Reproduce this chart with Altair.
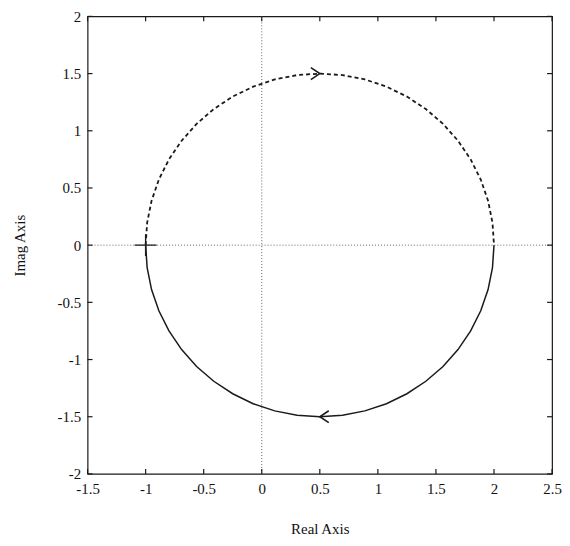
import altair as alt
import pandas as pd

# Axis ticks
x_ticks = [-1.5, -1, -0.5, 0, 0.5, 1, 1.5, 2, 2.5]
y_ticks = [-2, -1.5, -1, -0.5, 0, 0.5, 1, 1.5, 2]

# Upper half of the Nyquist contour (dashed), from -1 to 2
upper_x = [-1.000, -0.987, -0.949, -0.886, -0.799, -0.690, -0.561, -0.413, -0.250,
           -0.074, 0.112, 0.304, 0.500, 0.696, 0.888, 1.074, 1.250, 1.413, 1.561,
           1.690, 1.799, 1.886, 1.949, 1.987, 2.000]
upper_y = [0.000, 0.196, 0.388, 0.574, 0.750, 0.913, 1.061, 1.190, 1.299,
           1.386, 1.449, 1.487, 1.500, 1.487, 1.449, 1.386, 1.299, 1.190, 1.061,
           0.913, 0.750, 0.574, 0.388, 0.196, 0.000]

# Lower half (solid), from 2 back to -1
lower_x = [2.000, 1.987, 1.949, 1.886, 1.799, 1.690, 1.561, 1.413, 1.250,
           1.074, 0.888, 0.696, 0.500, 0.304, 0.112, -0.074, -0.250, -0.413, -0.561,
           -0.690, -0.799, -0.886, -0.949, -0.987, -1.000]
lower_y = [0.000, -0.196, -0.388, -0.574, -0.750, -0.913, -1.061, -1.190, -1.299,
           -1.386, -1.449, -1.487, -1.500, -1.487, -1.449, -1.386, -1.299, -1.190, -1.061,
           -0.913, -0.750, -0.574, -0.388, -0.196, 0.000]

# Direction arrows
arrow_x = [0.5, 0.5]
arrow_y = [1.5, -1.5]

# Critical point marker
crit_x = [-1.0]
crit_y = [0.0]

W, H = 467, 460
INK = "#1a1a1a"
FONT = "Liberation Serif"

df_up = pd.DataFrame({"x": upper_x, "y": upper_y, "i": list(range(len(upper_x)))})
df_lo = pd.DataFrame({"x": lower_x, "y": lower_y, "i": list(range(len(lower_x)))})
df_ar_r = pd.DataFrame({"x": arrow_x[:1], "y": arrow_y[:1]})
df_ar_l = pd.DataFrame({"x": arrow_x[1:], "y": arrow_y[1:]})
df_crit = pd.DataFrame({"x": crit_x, "y": crit_y})
df_xt = pd.DataFrame({"x": x_ticks})
df_yt = pd.DataFrame({"y": y_ticks})
df_zero = pd.DataFrame({"x": [0.0], "y": [0.0]})

xs = alt.Scale(domain=[-1.5, 2.5], nice=False, zero=False)
ys = alt.Scale(domain=[-2, 2], nice=False, zero=False)

common_axis = dict(
    ticks=False, grid=False, domain=False,
    labelFont=FONT, labelFontSize=15, labelColor="#111",
    titleFont=FONT, titleFontSize=15, titleFontWeight="normal", titleColor="#111",
    labelExpr="toString(datum.value)", labelOverlap=False, labelFlush=False,
)
xaxis = alt.Axis(values=x_ticks, labelPadding=8, titlePadding=25, **common_axis)
yaxis = alt.Axis(values=y_ticks, labelPadding=7, titlePadding=30, **common_axis)


def X():
    return alt.X("x:Q", scale=xs, axis=xaxis, title="Real Axis")


def Y():
    return alt.Y("y:Q", scale=ys, axis=yaxis, title="Imag Axis")


upper = alt.Chart(df_up).mark_line(strokeDash=[4, 3], strokeWidth=1.8, color=INK).encode(
    x=X(), y=Y(), order="i:Q")
lower = alt.Chart(df_lo).mark_line(strokeWidth=1.5, color=INK).encode(
    x=X(), y=Y(), order="i:Q")

zero_v = alt.Chart(df_zero).mark_rule(strokeDash=[1, 2], color="#666", strokeWidth=1).encode(x=X())
zero_h = alt.Chart(df_zero).mark_rule(strokeDash=[1, 2], color="#666", strokeWidth=1).encode(y=Y())

tick_b = alt.Chart(df_xt).mark_rule(color=INK, strokeWidth=1.2).encode(
    x=X(), y=alt.value(H), y2=alt.value(H - 5))
tick_t = alt.Chart(df_xt).mark_rule(color=INK, strokeWidth=1.2).encode(
    x=X(), y=alt.value(0), y2=alt.value(5))
tick_l = alt.Chart(df_yt).mark_rule(color=INK, strokeWidth=1.2).encode(
    y=Y(), x=alt.value(0), x2=alt.value(5))
tick_r = alt.Chart(df_yt).mark_rule(color=INK, strokeWidth=1.2).encode(
    y=Y(), x=alt.value(W), x2=alt.value(W - 5))

arrow_r = alt.Chart(df_ar_r).mark_point(
    shape="M-1.5,-1L0,0L-1.5,1", size=144, filled=False, color=INK, strokeWidth=1.6, opacity=1
).encode(x=X(), y=Y())
arrow_l = alt.Chart(df_ar_l).mark_point(
    shape="M1.5,-1L0,0L1.5,1", size=144, filled=False, color=INK, strokeWidth=1.6, opacity=1
).encode(x=X(), y=Y())

crit = alt.Chart(df_crit).mark_point(
    shape="M-1,0L1,0M0,-1L0,1", size=484, filled=False, color=INK, strokeWidth=1.4, opacity=1
).encode(x=X(), y=Y())

chart = alt.layer(
    zero_v, zero_h, upper, lower, tick_b, tick_t, tick_l, tick_r, arrow_r, arrow_l, crit
).properties(
    width=W, height=H,
    padding={"left": 80, "top": 7, "right": 10, "bottom": 67},
    autosize=alt.AutoSizeParams(type="none"),
    background="white",
).configure_view(stroke=INK, strokeWidth=1.2)

chart.save("out.html", embed_options={"renderer": "svg", "actions": False})
